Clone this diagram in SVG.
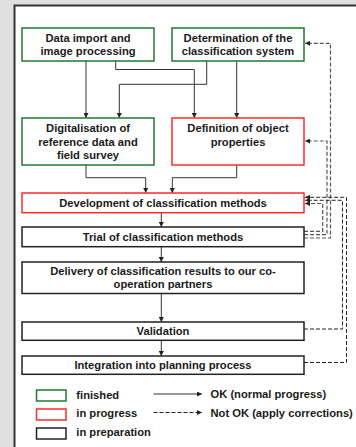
<svg xmlns="http://www.w3.org/2000/svg" width="356" height="447" viewBox="0 0 356 447">
<defs>
<marker id="ah" markerUnits="userSpaceOnUse" markerWidth="5" markerHeight="5" refX="5" refY="2.5" orient="auto">
<path d="M0,0 L5,2.5 L0,5 z" fill="#222"/>
</marker>
<style>
text{font-family:"Liberation Sans",Arial,sans-serif;font-weight:bold;font-size:11.2px;fill:#1a1a1a;text-anchor:middle}
.lg{text-anchor:start}
.box{fill:#fff;stroke-width:1.5}
.g{stroke:#1e7a2e}
.r{stroke:#ff2a2a}
.k{stroke:#222}
.ok{fill:none;stroke:#333;stroke-width:1}
.nok{fill:none;stroke:#555;stroke-width:1.2;stroke-dasharray:4,2}
.nok2{fill:none;stroke:#222;stroke-width:1;stroke-dasharray:4,2}
</style>
</defs>
<rect x="0" y="0" width="356" height="447" fill="#e0e0e0"/>
<rect x="14.5" y="5.5" width="345" height="445" fill="#fff"/>
<path d="M14.5,447 V5.5 H356" fill="none" stroke="#333" stroke-width="2"/>

<g id="connectors">
<path class="ok" d="M86,61 V118" marker-end="url(#ah)"/>
<path class="ok" d="M115.7,61 V69.5 H194.3 V118" marker-end="url(#ah)"/>
<path class="ok" d="M206.7,61 V84.3 H119.3 V118" marker-end="url(#ah)"/>
<path class="ok" d="M236.7,61 V118" marker-end="url(#ah)"/>
<path class="ok" d="M86,165 V177.7 H145.7 V193" marker-end="url(#ah)"/>
<path class="ok" d="M236.7,165 V177.7 H172.3 V193" marker-end="url(#ah)"/>
<path class="ok" d="M161.3,212.7 V227" marker-end="url(#ah)"/>
<path class="ok" d="M161.3,246.7 V262" marker-end="url(#ah)"/>
<path class="ok" d="M161.3,293.5 V322" marker-end="url(#ah)"/>
<path class="ok" d="M161.3,340.3 V356" marker-end="url(#ah)"/>
<path class="nok" d="M304,238 H330.5 V43.3 H305" marker-end="url(#ah)"/>
<path class="nok" d="M304,234.7 H327 V141 H305" marker-end="url(#ah)"/>
<path class="nok" d="M304,231.3 H322.7 V203.5 H305" marker-end="url(#ah)"/>
<path class="nok2" d="M304,329 H342.5 V200.3 H305" marker-end="url(#ah)"/>
<path class="nok2" d="M304,362.5 H346.5 V197.3 H305" marker-end="url(#ah)"/>
</g>

<g id="n1"><rect class="box g" x="22" y="28" width="132" height="33"/><text x="88" y="42.3">Data import and</text><text x="88" y="55.3">image processing</text></g>
<g id="n2"><rect class="box g" x="172" y="28" width="132" height="33"/><text x="238" y="42.3">Determination of the</text><text x="238" y="55.3">classification system</text></g>
<g id="n3"><rect class="box g" x="22" y="118" width="132" height="47"/><text x="88" y="132">Digitalisation of</text><text x="88" y="145.5">reference data and</text><text x="88" y="159">field survey</text></g>
<g id="n4"><rect class="box r" x="172" y="118" width="132" height="47"/><text x="238" y="132">Definition of object</text><text x="238" y="145.5">properties</text></g>
<g id="n5"><rect class="box r" x="22" y="193" width="282" height="19.7"/><text x="163" y="207">Development of classification methods</text></g>
<g id="n6"><rect class="box k" x="22" y="227" width="282" height="19.7"/><text x="163" y="241">Trial of classification methods</text></g>
<g id="n7"><rect class="box k" x="22" y="262" width="282" height="31.5"/><text x="163" y="275">Delivery of classification results to our co-</text><text x="163" y="287.7">operation partners</text></g>
<g id="n8"><rect class="box k" x="22" y="322" width="282" height="18.3"/><text x="163" y="335">Validation</text></g>
<g id="n9"><rect class="box k" x="22" y="356" width="282" height="18.3"/><text x="163" y="369">Integration into planning process</text></g>

<g id="legend">
<rect class="box g" x="36.5" y="390" width="29.5" height="11"/>
<rect class="box r" x="36.5" y="409" width="29.5" height="11"/>
<rect class="box k" x="36.5" y="428" width="29.5" height="11"/>
<text class="lg" x="76.3" y="398.5">finished</text>
<text class="lg" x="76.3" y="417">in progress</text>
<text class="lg" x="76.3" y="435.5">in preparation</text>
<path class="ok" d="M153.5,394 H202" marker-end="url(#ah)"/>
<path class="nok2" d="M153.5,412.5 H202" marker-end="url(#ah)"/>
<text class="lg" x="210.5" y="398">OK (normal progress)</text>
<text class="lg" x="210.5" y="416.5">Not OK (apply corrections)</text>
</g>
</svg>
